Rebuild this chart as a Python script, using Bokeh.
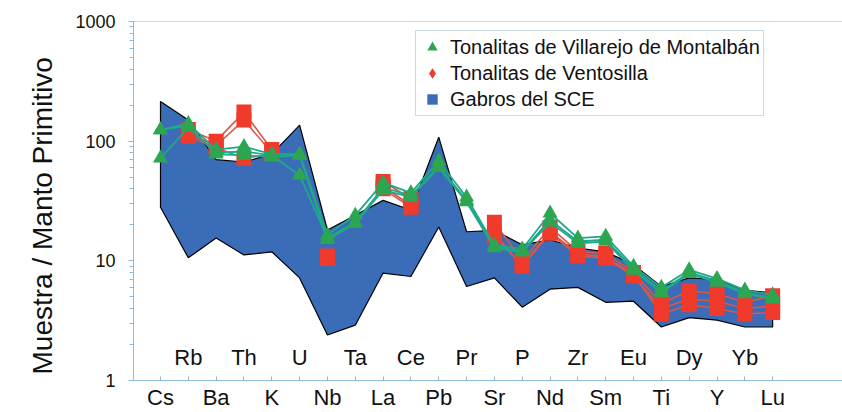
from bokeh.plotting import figure
from bokeh.models import (Range1d, FixedTicker, LogTicker, Span, Legend, LegendItem,
                          ColumnDataSource, Title)
from bokeh.core.properties import value
from bokeh.embed import file_html
from bokeh.resources import INLINE

elements = ["Cs", "Rb", "Ba", "Th", "K", "U", "Nb", "Ta", "La", "Ce", "Pb", "Pr",
            "Sr", "P", "Nd", "Zr", "Sm", "Eu", "Ti", "Dy", "Y", "Yb", "Lu"]

# Gabros del SCE field (upper / lower envelope)
gabro_upper = [215, 150, 70, 67, 78, 136, 18.1, 24, 32, 26.6, 108, 17.5,
               18, 13.6, 15, 12.8, 11.9, 9.3, 6.1, 7.2, 7.0, 5.7, 5.4]
gabro_lower = [28, 10.6, 15.5, 11.2, 11.9, 7.2, 2.4, 2.9, 7.9, 7.4, 19.2, 6.1,
               7.2, 4.1, 5.8, 6.0, 4.5, 4.6, 2.8, 3.35, 3.2, 2.8, 2.8]

# Tonalitas de Villarejo de Montalbán
villarejo_1 = [124, 140, 85, 90, 78, 78, 16.5, 24, 45, 37, 68, 34,
               13.5, 12.5, 25, 15.5, 16, 9.0, 6.0, 8.4, 7.1, 5.7, 5.2]
villarejo_2 = [72, 130, 80, 82, 76, 52, 15.5, 21, 41, 35, 62, 32,
               13, 12, 22, 14.5, 15, 8.6, 5.6, 8.0, 6.8, 5.4, 4.9]
villarejo_3 = [124, 135, 78, 76, 74, 76, 15, 20.5, 39, 34, 60, 31,
               12.8, 11.8, 21, 14, 14.5, 8.3, 5.4, 7.8, 6.6, 5.3, 4.8]

# Tonalitas de Ventosilla (None = not analysed)
ventosilla_1 = [None, 125, 100, 175, 85, None, 11, None, 46, 33, None, None,
                21, 10, 19, 12, 11.5, 8.0, 4.4, 5.6, 5.3, 4.5, 5.1]
ventosilla_2 = [None, 115, 92, 150, 80, None, 10.5, None, 42, 29, None, None,
                17, 9, 17, 11, 10.5, 7.5, 4.0, 4.8, 4.6, 4.0, 4.2]
ventosilla_3 = [None, 110, 88, 72, 78, None, 10.5, None, 40, 28, None, None,
                16, 9.2, 17.5, 11.5, 10.8, 7.7, 3.6, 4.3, 4.0, 3.6, 3.7]

legend_labels = ["Tonalitas de Villarejo de Montalbán", "Tonalitas de Ventosilla", "Gabros del SCE"]
y_title = "Muestra / Manto Primitivo"

FONT = "Liberation Sans"
AXIS_BLUE = "#8DB9DC"
BAND_BLUE = "#3B6CB7"
RED_FILL = "#EF3A2C"
RED_LINE = "#D9584A"
GREEN_FILL = "#2DA652"
GREEN_LINE = "#1FA88A"

idx = list(range(len(elements)))
nan = float("nan")

p = figure(width=842, height=412, y_axis_type="log",
           x_range=Range1d(-0.97, 24.51), y_range=Range1d(1, 1000),
           output_backend="svg", toolbar_location=None,
           min_border_left=133, min_border_right=0, min_border_top=21, min_border_bottom=31)
p.outline_line_color = None
p.xgrid.visible = False
p.ygrid.visible = False
p.background_fill_color = "white"

# gabbro field
band_x = idx + idx[::-1]
band_y = gabro_upper + gabro_lower[::-1]
p.patch(band_x, band_y, fill_color=BAND_BLUE, line_color="black", line_width=1.2)

# Ventosilla samples (lines broken where an element was not analysed)
ventosilla = [ventosilla_1, ventosilla_2, ventosilla_3]
for s in ventosilla:
    ys = [nan if v is None else v for v in s]
    p.line(idx, ys, line_color=RED_LINE, line_width=1.6)
for s in ventosilla:
    ys = [nan if v is None else v for v in s]
    p.scatter(idx, ys, marker="square", size=15, fill_color=RED_FILL, line_color=None)

# Villarejo samples
villarejo = [villarejo_1, villarejo_2, villarejo_3]
for s in villarejo:
    p.line(idx, s, line_color=GREEN_LINE, line_width=1.8)
for s in villarejo:
    p.scatter(idx, s, marker="triangle", size=15, fill_color=GREEN_FILL, line_color=None)

# legend-only renderers (nothing drawn in the frame)
lg_tri = p.scatter("x", "y", source=ColumnDataSource(dict(x=[nan], y=[nan])), marker="triangle",
                   size=14, fill_color=GREEN_FILL, line_color=None)
lg_dia = p.scatter("x", "y", source=ColumnDataSource(dict(x=[nan], y=[nan])), marker="diamond",
                   size=14, fill_color=RED_FILL, line_color=None)
lg_sq = p.scatter("x", "y", source=ColumnDataSource(dict(x=[nan], y=[nan])), marker="square",
                  size=12, fill_color=BAND_BLUE, line_color=None)

legend = Legend(items=[LegendItem(label=legend_labels[0], renderers=[lg_tri], index=0),
                       LegendItem(label=legend_labels[1], renderers=[lg_dia], index=0),
                       LegendItem(label=legend_labels[2], renderers=[lg_sq], index=0)],
                location=(282, 264), margin=0, padding=3, spacing=0,
                glyph_width=26, glyph_height=26, label_height=21, label_standoff=5,
                label_text_font=FONT, label_text_font_size="20px", label_text_color="#111111",
                border_line_color=AXIS_BLUE, border_line_width=1, background_fill_alpha=1)
p.add_layout(legend)

# top frame line
p.add_layout(Span(location=1000, dimension="width", line_color=AXIS_BLUE, line_width=1.2))

# axes
xa = p.xaxis[0]
xa.ticker = FixedTicker(ticks=idx)
xa.major_label_overrides = {i: (elements[i] if i % 2 == 0 else "") for i in idx}
xa.axis_line_color = AXIS_BLUE
xa.major_tick_line_color = AXIS_BLUE
xa.major_tick_in = 4
xa.major_tick_out = 0
xa.minor_tick_line_color = None
xa.major_label_text_font = FONT
xa.major_label_text_font_size = "22px"
xa.major_label_text_color = "#111111"
xa.major_label_standoff = 4

ya = p.yaxis[0]
ya.ticker = LogTicker(num_minor_ticks=10)
ya.axis_line_color = AXIS_BLUE
ya.major_tick_line_color = AXIS_BLUE
ya.minor_tick_line_color = AXIS_BLUE
ya.major_tick_in = 0
ya.major_tick_out = 5
ya.minor_tick_in = 0
ya.minor_tick_out = 4
ya.major_label_text_font = FONT
ya.major_label_text_font_size = "18px"
ya.major_label_text_color = "#111111"
ya.major_label_standoff = 13
ya.major_label_overrides = {1: "1", 10: "10", 100: "100", 1000: "1000"}

# y title as a side title, left-aligned along the axis (starts near the bottom)
p.add_layout(Title(text=y_title, align="left", offset=6, standoff=30,
                   text_font=FONT, text_font_size="28px", text_font_style="normal",
                   text_color="#111111"), "left")

# upper row of element labels (odd positions)
odd = [i for i in idx if i % 2 == 1]
p.text(x=odd, y=[1.555] * len(odd), text=[elements[i] for i in odd],
       text_font=value(FONT), text_font_size="22px", text_color="#111111",
       text_align="center", text_baseline="middle")

open("out.html", "w").write(file_html(p, INLINE))
